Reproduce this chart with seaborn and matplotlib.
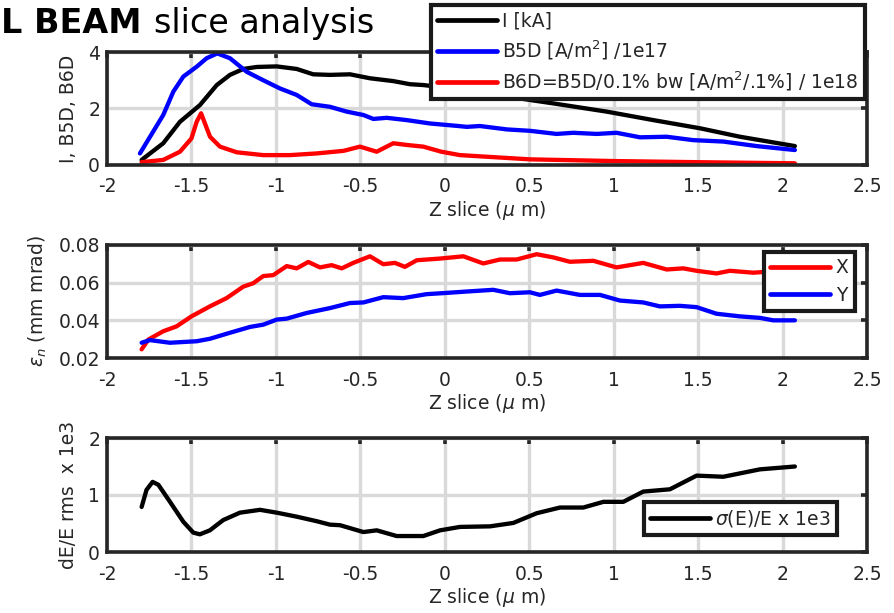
import matplotlib
matplotlib.use("Agg")
import matplotlib.pyplot as plt
import seaborn as sns

# ---- top panel: current and brightness ----
z_cur = [-1.795, -1.667, -1.568, -1.45, -1.35, -1.272, -1.193, -1.114, -0.995, -0.877,
         -0.779, -0.68, -0.561, -0.443, -0.305, -0.206, -0.127, 0.2, 0.45, 0.643,
         0.958, 1.234, 1.511, 1.748, 2.073]
cur_ka = [0.18, 0.77, 1.53, 2.12, 2.83, 3.19, 3.4, 3.47, 3.49, 3.4,
          3.21, 3.19, 3.21, 3.07, 2.97, 2.86, 2.83, 2.6, 2.35, 2.18,
          1.89, 1.59, 1.3, 1.0, 0.67]

z_b5d = [-1.805, -1.667, -1.607, -1.548, -1.469, -1.41, -1.347, -1.272, -1.173, -1.075,
         -0.976, -0.877, -0.788, -0.68, -0.581, -0.482, -0.423, -0.344, -0.226, -0.088,
         0.08, 0.13, 0.208, 0.367, 0.504, 0.662, 0.76, 0.9, 1.017, 1.156,
         1.314, 1.471, 1.649, 1.846, 2.073]
b5d = [0.41, 1.77, 2.6, 3.13, 3.48, 3.78, 3.95, 3.78, 3.3, 3.0,
       2.71, 2.48, 2.15, 2.06, 1.89, 1.77, 1.63, 1.67, 1.59, 1.47,
       1.38, 1.35, 1.38, 1.26, 1.21, 1.1, 1.14, 1.1, 1.14, 0.98,
       1.0, 0.88, 0.83, 0.67, 0.53]

z_b6d = [-1.795, -1.667, -1.568, -1.5, -1.469, -1.443, -1.42, -1.39, -1.331, -1.232,
         -1.075, -0.917, -0.758, -0.6, -0.502, -0.403, -0.305, -0.226, -0.127, -0.02,
         0.09, 0.504, 0.998, 1.495, 2.073]
b6d = [0.1, 0.18, 0.47, 0.94, 1.53, 1.83, 1.47, 1.0, 0.65, 0.45,
       0.35, 0.35, 0.41, 0.5, 0.65, 0.47, 0.77, 0.71, 0.65, 0.47,
       0.35, 0.2, 0.14, 0.1, 0.06]

# ---- middle panel: normalised emittance ----
z_ex = [-1.795, -1.755, -1.667, -1.588, -1.5, -1.391, -1.292, -1.193, -1.134, -1.075,
        -1.016, -0.936, -0.877, -0.808, -0.739, -0.67, -0.61, -0.542, -0.443, -0.364,
        -0.295, -0.236, -0.166, -0.028, 0.11, 0.228, 0.327, 0.426, 0.544, 0.643,
        0.741, 0.88, 1.017, 1.175, 1.314, 1.412, 1.491, 1.609, 1.688, 1.826,
        1.95, 2.073]
emit_x = [0.0246, 0.0298, 0.0342, 0.0368, 0.0421, 0.0474, 0.0518, 0.0579, 0.0597, 0.0635,
          0.064, 0.0688, 0.0676, 0.071, 0.0681, 0.0693, 0.0676, 0.0705, 0.074, 0.0698,
          0.0705, 0.0684, 0.0719, 0.0728, 0.074, 0.0702, 0.0723, 0.0723, 0.0751, 0.0734,
          0.0711, 0.0716, 0.0681, 0.0705, 0.067, 0.0676, 0.0663, 0.0649, 0.0663, 0.0653,
          0.066, 0.0665]

z_ey = [-1.795, -1.746, -1.627, -1.469, -1.391, -1.272, -1.153, -1.075, -0.995, -0.936,
        -0.818, -0.68, -0.561, -0.482, -0.364, -0.246, -0.108, 0.0, 0.13, 0.287,
        0.386, 0.504, 0.563, 0.662, 0.8, 0.919, 1.037, 1.175, 1.274, 1.392,
        1.491, 1.609, 1.748, 1.866, 1.945, 2.073]
emit_y = [0.0281, 0.0295, 0.0281, 0.0289, 0.0302, 0.0334, 0.0365, 0.0377, 0.0404, 0.0409,
          0.0439, 0.0465, 0.0492, 0.0495, 0.0523, 0.0518, 0.0539, 0.0545, 0.0553, 0.0562,
          0.0544, 0.0549, 0.0535, 0.0558, 0.0535, 0.0535, 0.0505, 0.0495, 0.0474, 0.0477,
          0.047, 0.0435, 0.0421, 0.0413, 0.04, 0.04]

# ---- bottom panel: relative energy spread ----
z_de = [-1.795, -1.766, -1.73, -1.696, -1.627, -1.548, -1.489, -1.45, -1.391, -1.312,
        -1.213, -1.094, -0.995, -0.877, -0.758, -0.68, -0.62, -0.482, -0.403, -0.285,
        -0.127, -0.028, 0.09, 0.268, 0.406, 0.544, 0.682, 0.82, 0.939, 1.057,
        1.175, 1.333, 1.491, 1.649, 1.866, 2.073]
de_rms = [0.79, 1.09, 1.23, 1.18, 0.88, 0.53, 0.34, 0.31, 0.38, 0.56,
          0.69, 0.74, 0.69, 0.62, 0.54, 0.48, 0.47, 0.35, 0.38, 0.28,
          0.28, 0.38, 0.44, 0.45, 0.51, 0.68, 0.78, 0.78, 0.88, 0.88,
          1.06, 1.1, 1.34, 1.32, 1.45, 1.5]

x_ticks = [-2, -1.5, -1, -0.5, 0, 0.5, 1, 1.5, 2, 2.5]
x_tick_labels = ["-2", "-1.5", "-1", "-0.5", "0", "0.5", "1", "1.5", "2", "2.5"]

sns.set_theme(style="whitegrid")
plt.rcParams["font.family"] = ["DejaVu Sans"]
plt.rcParams["mathtext.fontset"] = "dejavusans"

INK = "#262626"
FS = 13.5
W, H = 895, 613
fig = plt.figure(figsize=(W / 100, H / 100), dpi=100)


def frame(top, bottom):
    return fig.add_axes([107 / W, (H - bottom) / H, 760 / W, (bottom - top) / H])


def style(ax, ylim, yticks, yticklabels, ylabel):
    ax.set_xlim(-2, 2.5)
    ax.set_ylim(*ylim)
    ax.set_xticks(x_ticks)
    ax.set_xticklabels(x_tick_labels)
    ax.set_yticks(yticks)
    ax.set_yticklabels(yticklabels)
    ax.grid(True, color="#d9d9d9", linewidth=2.4)
    ax.set_axisbelow(True)
    for s in ax.spines.values():
        s.set_visible(True)
        s.set_color(INK)
        s.set_linewidth(2.6)
    ax.tick_params(direction="in", length=4, width=2.6, color=INK, top=True, right=True,
                   labelsize=FS, labelcolor=INK)
    ax.tick_params(axis="x", pad=9)
    ax.tick_params(axis="y", pad=5)
    ax.set_xlabel("Z slice ($\\mu$ m)", fontsize=FS, color=INK, labelpad=2)
    ax.set_ylabel(ylabel, fontsize=FS, color=INK, labelpad=7)
    ax.set_facecolor("white")


def legend(ax, anchor, spacing=0.4):
    leg = ax.legend(loc="upper right", bbox_to_anchor=(anchor[0] / W, 1 - anchor[1] / H),
                    bbox_transform=fig.transFigure, frameon=True, fancybox=False,
                    framealpha=1, edgecolor="#1a1a1a", borderpad=0.33,
                    labelspacing=spacing, handletextpad=0.3, borderaxespad=0,
                    fontsize=FS, handlelength=3.2)
    leg.get_frame().set_linewidth(3)
    for line in leg.get_lines():
        line.set_linewidth(3.4)
    return leg


lw = 3.1

# top panel
ax1 = frame(52, 165)
sns.lineplot(x=z_cur, y=cur_ka, ax=ax1, color="black", lw=lw, estimator=None, sort=False,
             label="I [kA]")
sns.lineplot(x=z_b5d, y=b5d, ax=ax1, color="#0000ff", lw=lw, estimator=None, sort=False,
             label="B5D [A/m$^2$] /1e17")
sns.lineplot(x=z_b6d, y=b6d, ax=ax1, color="#ff0000", lw=lw, estimator=None, sort=False,
             label="B6D=B5D/0.1% bw [A/m$^2$/.1%] / 1e18")
style(ax1, (0, 4), [0, 2, 4], ["0", "2", "4"], "I, B5D, B6D")
legend(ax1, (865, 5), spacing=0.42)

# middle panel
ax2 = frame(245, 358)
sns.lineplot(x=z_ex, y=emit_x, ax=ax2, color="#ff0000", lw=lw, estimator=None, sort=False,
             label="X")
sns.lineplot(x=z_ey, y=emit_y, ax=ax2, color="#0000ff", lw=lw, estimator=None, sort=False,
             label="Y")
style(ax2, (0.02, 0.08), [0.02, 0.04, 0.06, 0.08], ["0.02", "0.04", "0.06", "0.08"],
      "$\\epsilon_n$ (mm mrad)")
legend(ax2, (855, 252), spacing=0.45)

# bottom panel
ax3 = frame(438, 552)
sns.lineplot(x=z_de, y=de_rms, ax=ax3, color="black", lw=lw, estimator=None, sort=False,
             label="$\\sigma$(E)/E x 1e3")
style(ax3, (0, 2), [0, 1, 2], ["0", "1", "2"], "dE/E rms  x 1e3")
legend(ax3, (837, 502))

# heading
fig.text(1 / W, 1 - 33 / H, "L BEAM", fontsize=24, fontweight="bold", color="black",
         va="baseline", ha="left")
fig.text(154 / W, 1 - 33 / H, "slice analysis", fontsize=24, color="black",
         va="baseline", ha="left")

fig.savefig("out.png", dpi=100, facecolor="white")
